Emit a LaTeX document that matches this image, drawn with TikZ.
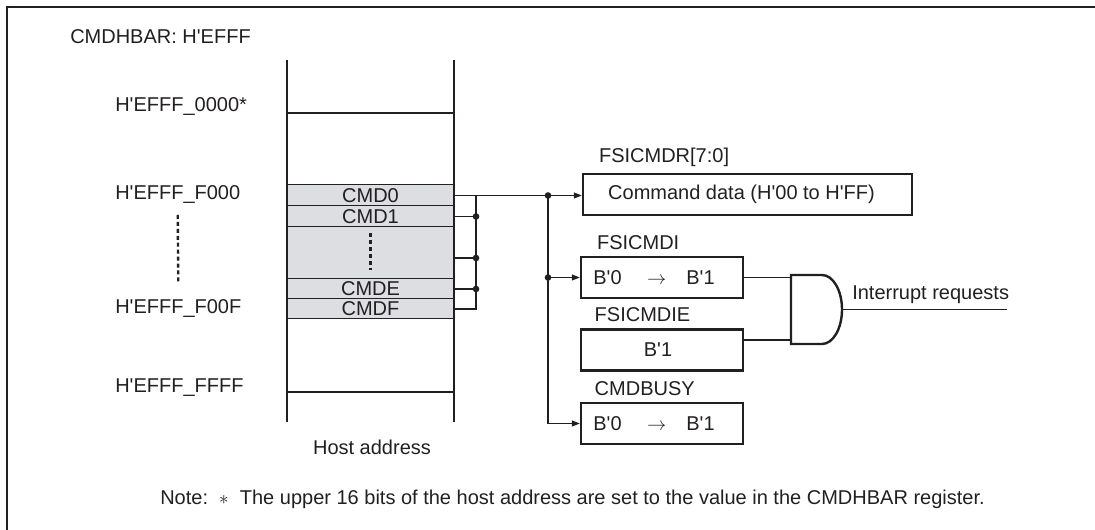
\documentclass[tikz,border=0pt]{standalone}
\usepackage{fontspec}
\setmainfont{Liberation Sans}[Ligatures=TeXOff]
\usepackage{tikz}
\usetikzlibrary{arrows.meta, positioning}
\definecolor{cellgray}{RGB}{220,222,226}
\definecolor{inkgray}{RGB}{35,31,32}
\tikzstyle{cell}     = [rectangle, fill=cellgray, draw=inkgray, line width=0.75pt,
                        minimum width=125.25pt, inner sep=0pt, outer sep=0pt]
\tikzstyle{regbox}   = [rectangle, draw=inkgray, line width=1.8pt, minimum width=121.5pt,
                        minimum height=30.75pt, inner sep=0pt, text centered]
\tikzstyle{reglabel} = [anchor=south west, inner sep=0pt]
\tikzstyle{addr}     = [anchor=west, inner sep=0pt]
\tikzstyle{wire}     = [line width=0.8pt, draw=inkgray]
\tikzstyle{arrow}    = [wire, -{Triangle[length=6pt, width=4.5pt]}]
\tikzstyle{junction} = [circle, fill=inkgray, inner sep=0pt, minimum size=5pt]
\tikzstyle{thickline}= [line width=1.8pt, draw=inkgray]
\tikzstyle{vdots}    = [line width=1.8pt, draw=inkgray, dash pattern=on 3pt off 2.2pt]

\begin{document}
\begin{tikzpicture}[x=0.75pt, y=-0.75pt, text=inkgray,
                    font=\fontsize{15}{18}\selectfont]
  \useasboundingbox (0,0) rectangle (1095,530);

  % Frame (right and bottom edges are cut off)
  \draw[thickline] (7,530) -- (7,7) -- (1095,7);

  % Addresses
  \node[addr] (bar)   at (70,37)   {CMDHBAR: H'EFFF};
  \node[addr] (l0000) at (115,107) {H'EFFF\_0000*};
  \node[addr] (lf000) at (115,195) {H'EFFF\_F000};
  \node[addr] (lf00f) at (115,309) {H'EFFF\_F00F};
  \node[addr] (lffff) at (115,388) {H'EFFF\_FFFF};
  \draw[vdots] ([yshift=-15pt]lf000.center) -- ([yshift=19.5pt]lf00f.center);

  % Command registers in host space
  \node[cell, minimum height=15.75pt] (cmd0) at (370.5,195.5) {CMD0};
  \node[cell, minimum height=15.75pt, below=0pt of cmd0] (cmd1) {CMD1};
  \node[cell, minimum height=39pt,    below=0pt of cmd1] (dots) {};
  \node[cell, minimum height=15pt,    below=0pt of dots] (cmde) {CMDE};
  \node[cell, minimum height=15pt,    below=0pt of cmde] (cmdf) {CMDF};
  \draw[vdots, shorten <=4.5pt, shorten >=6.75pt] (dots.north) -- (dots.south);

  % Host address column
  \draw[thickline] (287,60) -- (287,422);
  \draw[thickline] (454,60) -- (454,422);
  \draw[thickline] (287,113) -- (454,113);
  \draw[thickline] (287,392) -- (454,392);
  \node (host) at (372,447) {Host address};

  % Registers
  \node[regbox, minimum width=246.75pt] (fsicmdr) at (747.5,194.5) {Command data (H'00 to H'FF)\hspace*{9pt}};
  \node[regbox] (fsicmdi)  at (662,277.5) {B'0 \quad$\rightarrow$\quad B'1\hspace*{12pt}};
  \node[regbox] (fsicmdie) at (662,350)   {B'1\hspace*{6pt}};
  \node[regbox] (cmdbusy)  at (662,423.5) {B'0 \quad$\rightarrow$\quad B'1\hspace*{12pt}};
  \node[reglabel] (nfsicmdr)  at ([xshift=12.75pt, yshift=4.5pt]fsicmdr.north west)  {FSICMDR[7:0]};
  \node[reglabel] (nfsicmdi)  at ([xshift=12.75pt, yshift=4.5pt]fsicmdi.north west)  {FSICMDI};
  \node[reglabel] (nfsicmdie) at ([xshift=11pt, yshift=4.5pt]fsicmdie.north west) {FSICMDIE};
  \node[reglabel] (ncmdbusy)  at ([xshift=11pt, yshift=4.5pt]cmdbusy.north west)  {CMDBUSY};

  % Buses
  \coordinate (busL) at (476,0);
  \coordinate (busR) at (548,0);
  \draw[wire] (cmd0.east) -- (cmd0.east -| busR) node[junction] (j0) {};
  \draw[wire] (cmd0.east -| busL) -- (cmdf.east -| busL) -- (cmdf.east);
  \draw[wire] (cmd1.east) -- (cmd1.east -| busL) node[junction] (j1) {};
  \coordinate (dtap) at ([yshift=-3.75pt]dots.east);
  \draw[wire] (dtap) -- (dtap -| busL) node[junction] (j2) {};
  \draw[wire] (cmde.east) -- (cmde.east -| busL) node[junction] (j3) {};
  \draw[arrow] (j0.center) -- (j0.center -| fsicmdr.west);
  \draw[arrow] (j0.center) |- (cmdbusy.west);
  \node[junction] (j4) at (j0 |- fsicmdi.west) {};
  \draw[arrow] (j4.center) -- (fsicmdi.west);

  % AND gate
  \coordinate (gate) at (791,275);
  \draw[thickline] (gate) -- ++(31,0) arc[start angle=-90, end angle=90, x radius=20, y radius=34.5]
                   -- ++(-31,0) -- cycle;
  \coordinate (ie) at ([yshift=7.5pt]fsicmdie.east);
  \draw[wire] (fsicmdi.east) -- (fsicmdi.east -| gate);
  \draw[wire] (ie) -- (ie -| gate);
  \coordinate (gout) at (842,309.5);
  \coordinate (irq)  at (1007,309.5);
  \draw[wire] (gout) -- (irq);
  \node[addr] (irqtxt) at (852,295) {Interrupt requests};

  % Note
  \node[addr] (note) at (160,499) {Note:~~$\ast$~~The upper 16 bits of the host address are set to the value in the CMDHBAR register.};
\end{tikzpicture}
\end{document}
